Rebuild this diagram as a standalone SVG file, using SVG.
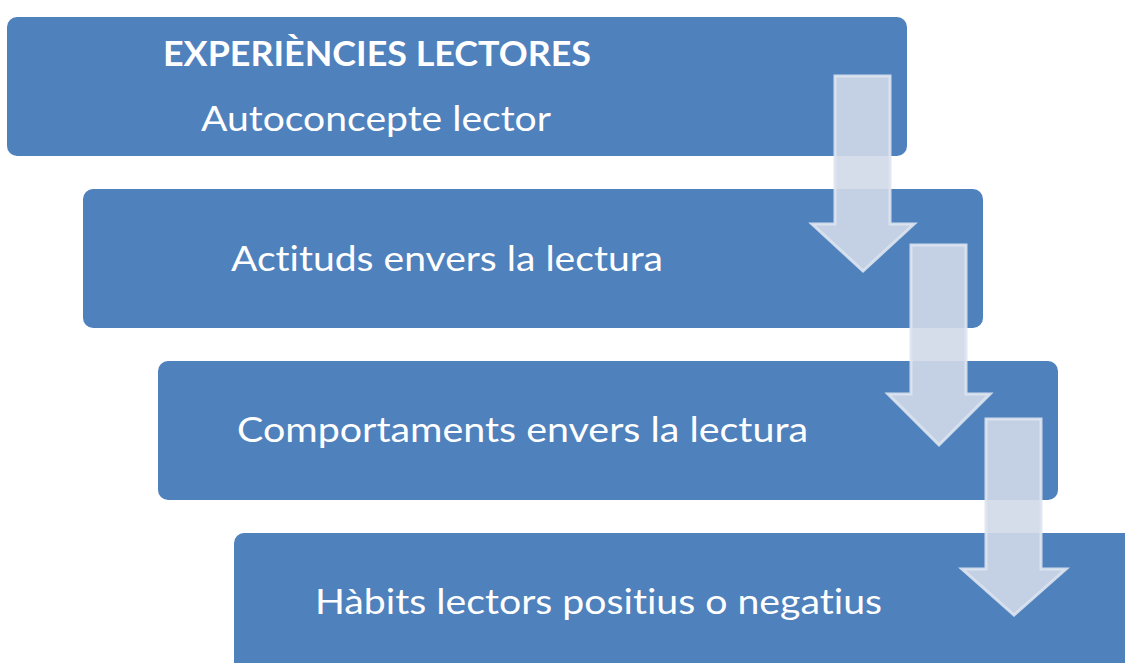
<svg xmlns="http://www.w3.org/2000/svg" width="1125" height="663" viewBox="0 0 1125 663">
<style>
.box{fill:#4f81bd;}
.t{fill:#ffffff;font-family:Lato,"Open Sans","Liberation Sans",sans-serif;font-size:35px;font-variant-ligatures:none;}
.b{font-weight:bold;font-size:34px;}
.arr{fill:#d0d8e8;fill-opacity:0.9;stroke:#dde4f0;stroke-opacity:0.9;stroke-width:3;stroke-linejoin:miter;}
</style>
<rect width="1125" height="663" fill="#ffffff"/>
<g id="node1">
<rect class="box" x="7" y="17" width="900" height="139" rx="10"/>
<text class="t b" x="163" y="66" textLength="428" lengthAdjust="spacingAndGlyphs">EXPERIÈNCIES LECTORES</text>
<text class="t" x="201" y="131" textLength="350" lengthAdjust="spacingAndGlyphs">Autoconcepte lector</text>
</g>
<g id="node2">
<rect class="box" x="83" y="189" width="900" height="139" rx="10"/>
<text class="t" x="231" y="271" textLength="432" lengthAdjust="spacingAndGlyphs">Actituds envers la lectura</text>
</g>
<g id="node3">
<rect class="box" x="158" y="361" width="900" height="139" rx="10"/>
<text class="t" x="237" y="442" textLength="571" lengthAdjust="spacingAndGlyphs">Comportaments envers la lectura</text>
</g>
<g id="node4">
<rect class="box" x="234" y="533" width="900" height="139" rx="10"/>
<text class="t" x="315" y="614" textLength="567" lengthAdjust="spacingAndGlyphs">Hàbits lectors positius o negatius</text>
</g>
<g id="connectors">
<path class="arr" d="M835,76 H890 V224 H914 L863,271 L812,224 H835 Z"/>
<path class="arr" d="M911,245 H966 V394 H990 L939,445 L888,394 H911 Z"/>
<path class="arr" d="M986,419 H1041 V569 H1066 L1014,615 L962,569 H986 Z"/>
</g>
</svg>
